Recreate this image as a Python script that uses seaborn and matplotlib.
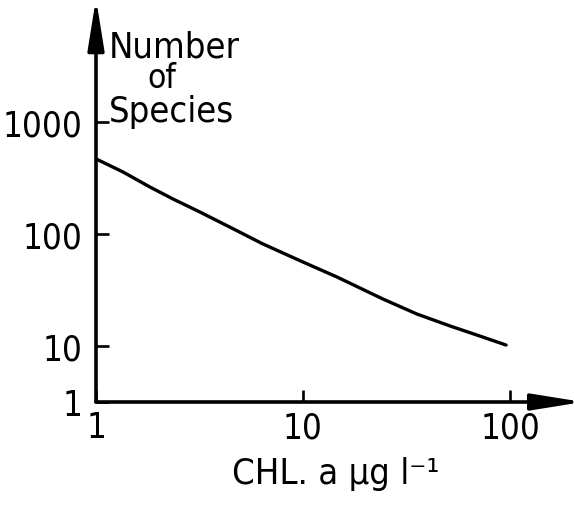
import numpy as np
import matplotlib
matplotlib.use("Agg")
import matplotlib.pyplot as plt
import seaborn as sns

# Data
chl = [1.0, 1.35, 1.82, 2.36, 3.18, 4.44, 6.41, 10.0, 14.6, 24.3, 35.5, 51.3, 74.1, 95.7]
species = [468, 358, 263, 205, 157, 115, 81.4, 56.2, 41.3, 26.3, 19.3, 15.1, 12.0, 10.2]
x_ticks = [1, 10, 100]
x_tick_labels = ["1", "10", "100"]
y_ticks = [1, 10, 100, 1000]
y_tick_labels = ["1", "10", "100", "1000"]
y_title = ["Number", "of", "Species"]
x_title = "CHL. a \u03bcg l\u207b\u00b9"

sns.set_style("white")
plt.rcParams["font.family"] = ["DejaVu Sans"]
plt.rcParams["font.stretch"] = "condensed"
plt.rcParams["text.color"] = "black"

fig = plt.figure(figsize=(5.74, 5.10), dpi=100)
ax = fig.add_axes([96 / 574, 107 / 510, 476 / 574, 395 / 510])

sns.lineplot(x=chl, y=species, ax=ax, color="black", linewidth=2.4)
ax.set_xscale("log")


def fwd(y):
    y = np.asarray(y, dtype=float)
    ly = np.log10(np.clip(y, 1e-6, None))
    return np.where(ly >= 1, ly, 1 + (ly - 1) * 0.5)


def inv(s):
    s = np.asarray(s, dtype=float)
    return np.where(s >= 1, 10 ** s, 10 ** (1 + (s - 1) * 2))


ax.set_yscale("function", functions=(fwd, inv))
ax.set_xlim(1, 10 ** (476 / 207))
ax.set_ylim(1, 10 ** (3 + 115 / 112))

ax.set_xticks(x_ticks)
ax.set_xticklabels(x_tick_labels)
ax.set_yticks(y_ticks)
ax.set_yticklabels(y_tick_labels)
ax.minorticks_off()
ax.tick_params(axis="both", which="major", direction="in", length=9, width=1.9,
               color="black", labelsize=25, labelcolor="black",
               bottom=True, left=True)
ax.tick_params(axis="x", pad=6)
ax.tick_params(axis="y", pad=10)

for s in ax.spines.values():
    s.set_visible(False)
ax.grid(False)

arrow_kw = dict(arrowstyle="-|>,head_length=2.8,head_width=0.45", lw=2.6,
                color="black", mutation_scale=11, shrinkA=0, shrinkB=0)
ax.annotate("", xy=(1.023, 0), xytext=(0, 0), xycoords="axes fraction",
            textcoords="axes fraction", arrowprops=arrow_kw)
ax.annotate("", xy=(0, 1.022), xytext=(0, 0), xycoords="axes fraction",
            textcoords="axes fraction", arrowprops=arrow_kw)

# y title (three stacked lines, tight spacing)
fig.text(109 / 574, 1 - 48 / 510, y_title[0], fontsize=26, ha="left", va="center")
fig.text(162 / 574, 1 - 79 / 510, y_title[1], fontsize=24, ha="center", va="center")
fig.text(109 / 574, 1 - 112 / 510, y_title[2], fontsize=26, ha="left", va="center")

fig.text(336 / 574, 1 - 474 / 510, x_title, fontsize=26, ha="center", va="center")

fig.savefig("out.png", dpi=100)
